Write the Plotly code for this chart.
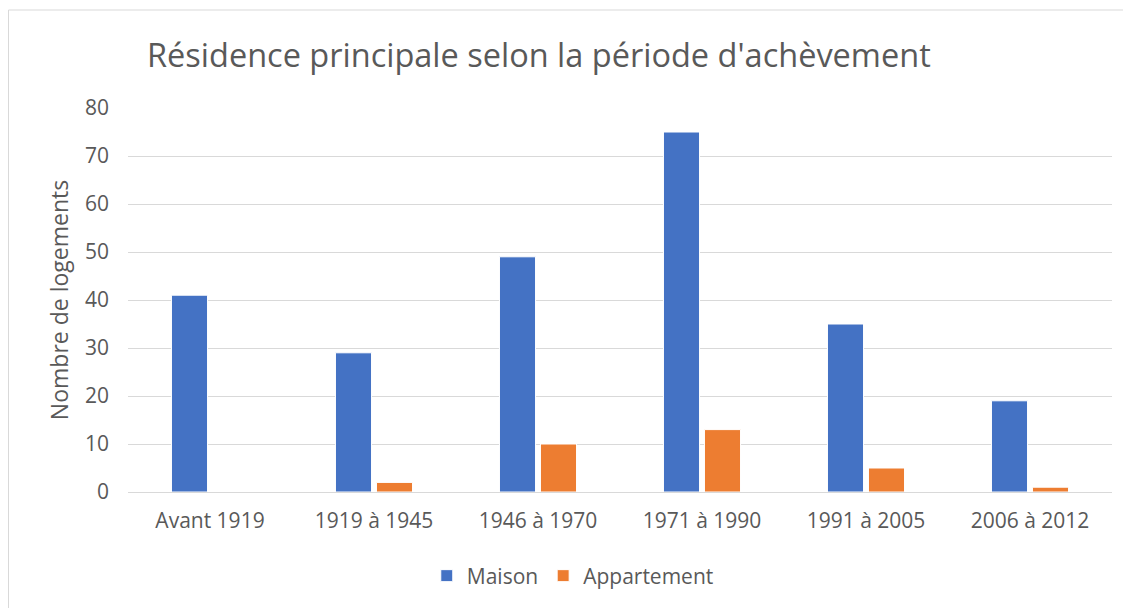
import plotly.graph_objects as go

periodes = ["Avant 1919", "1919 à 1945", "1946 à 1970", "1971 à 1990", "1991 à 2005", "2006 à 2012"]
maison = [41, 29, 49, 75, 35, 19]
appartement = [0, 2, 10, 13, 5, 1]

font_family = "Open Sans"
gray_text = "#595959"

# the page puts the figure 8px in from the top-left corner
fig_w, fig_h = 1123, 600
m_l, m_r, m_t, m_b = 120, 19, 100, 116
plot_w = fig_w - m_l - m_r
plot_h = fig_h - m_t - m_b

fig = go.Figure()

fig.add_trace(
	go.Bar(
		x=periodes,
		y=maison,
		name="Maison",
		marker=dict(color="#4472C4", line=dict(color="white", width=1))
	)
)

fig.add_trace(
	go.Bar(
		x=periodes,
		y=appartement,
		name="Appartement",
		marker=dict(color="#ED7D31", line=dict(color="white", width=1))
	)
)

fig.update_layout(
	width=fig_w,
	height=fig_h,
	margin=dict(l=m_l, r=m_r, t=m_t, b=m_b),
	paper_bgcolor="white",
	plot_bgcolor="white",
	barmode="group",
	bargap=0.5,
	bargroupgap=0.12,
	font=dict(family=font_family, color=gray_text, size=21),
	title=dict(
		text="Résidence principale selon la période d'achèvement",
		x=139 / fig_w,
		xanchor="left",
		y=1 - 48 / fig_h,
		yanchor="middle",
		font=dict(family=font_family, size=32.5, color=gray_text)
	),
	legend=dict(
		orientation="h",
		x=0.452,
		xanchor="center",
		y=-84 / plot_h,
		yanchor="middle",
		font=dict(size=21, color=gray_text),
		itemwidth=30,
		traceorder="normal"
	),
	showlegend=True,
	shapes=[
		dict(
			type="rect",
			xref="paper", yref="paper",
			x0=(0.5 - m_l) / plot_w, x1=1.1,
			y0=-0.6, y1=1 + (m_t - 2) / plot_h,
			line=dict(color="#d9d9d9", width=1),
			layer="below"
		)
	]
)

fig.update_xaxes(
	showgrid=False,
	showline=True,
	linecolor="#d9d9d9",
	linewidth=1,
	ticks="",
	ticklabelstandoff=10,
	tickfont=dict(size=21, color=gray_text)
)

fig.update_yaxes(
	title_text="Nombre de logements",
	title_font=dict(size=23, color=gray_text),
	title_standoff=9,
	range=[0, 80],
	dtick=10,
	showgrid=True,
	gridcolor="#d9d9d9",
	gridwidth=1,
	zeroline=False,
	ticks="",
	ticklabelstandoff=18,
	tickfont=dict(size=21, color=gray_text)
)

fig.write_html("out.html")
